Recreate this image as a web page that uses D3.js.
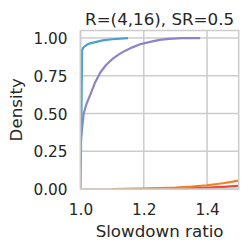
<!DOCTYPE html>
<html>
<head>
<meta charset="utf-8">
<script src="https://cdn.jsdelivr.net/npm/d3@7"></script>
<style>
  body { margin: 0; background: #fff; }
  text { font-family: "DejaVu Sans", sans-serif; fill: #262626; }
</style>
</head>
<body>
<figure id="chart" style="margin:0"></figure>
<script>
// CDF curves (slowdown ratio, density)
const blueX   = [1.0, 1.003, 1.005, 1.01, 1.02, 1.03, 1.05, 1.07, 1.1, 1.15];
const blueY   = [0.0, 0.5, 0.92, 0.94, 0.955, 0.965, 0.975, 0.985, 0.992, 1.0];
const purpleX = [1.0, 1.005, 1.01, 1.02, 1.03, 1.045, 1.062, 1.08, 1.1, 1.12, 1.14, 1.166, 1.19, 1.22, 1.25, 1.28, 1.32, 1.378];
const purpleY = [0.3, 0.4, 0.5, 0.57, 0.62, 0.7, 0.77, 0.82, 0.86, 0.89, 0.915, 0.94, 0.96, 0.975, 0.988, 0.995, 0.999, 1.0];
const peachX  = [1.0, 1.1, 1.2, 1.3];
const peachY  = [0.0, 0.0, 0.002, 0.006];
const orangeX = [1.1, 1.2, 1.3, 1.35, 1.4, 1.45, 1.5];
const orangeY = [0.0, 0.003, 0.01, 0.016, 0.025, 0.038, 0.055];
const redX    = [1.2, 1.3, 1.4, 1.45, 1.5];
const redY    = [0.0, 0.003, 0.009, 0.014, 0.021];

const xTicks = [1.0, 1.2, 1.4];
const yTicks = [0, 0.25, 0.5, 0.75, 1.0];

const W = 249, H = 250;
const mLeft = 80.5, mRight = 238.7, mTop = 30.5, mBottom = 189;

const svg = d3.select("figure#chart")
  .append("svg")
  .attr("width", W)
  .attr("height", H);

const x = d3.scaleLinear().domain([1.0, 1.5]).range([mLeft, mRight]);
const y = d3.scaleLinear().domain([0, 1.05]).range([mBottom, mTop]);

// grid
svg.append("g")
  .selectAll("line")
  .data(xTicks)
  .enter()
  .append("line")
  .attr("x1", d => x(d)).attr("x2", d => x(d))
  .attr("y1", mTop).attr("y2", mBottom)
  .attr("stroke", "#cccccc").attr("stroke-width", 1.5);

svg.append("g")
  .selectAll("line")
  .data(yTicks)
  .enter()
  .append("line")
  .attr("x1", mLeft).attr("x2", mRight)
  .attr("y1", d => y(d)).attr("y2", d => y(d))
  .attr("stroke", "#cccccc").attr("stroke-width", 1.5);

// clip
svg.append("clipPath").attr("id", "clip")
  .append("rect")
  .attr("x", mLeft).attr("y", mTop)
  .attr("width", mRight - mLeft).attr("height", mBottom - mTop);

const line = d3.line().x(d => x(d[0])).y(d => y(d[1]));

const series = [
  { xs: peachX, ys: peachY, color: "#f8c6a4" },
  { xs: redX, ys: redY, color: "#ec4a3c" },
  { xs: orangeX, ys: orangeY, color: "#f6801f" },
  { xs: purpleX, ys: purpleY, color: "#8b85c6" },
  { xs: blueX, ys: blueY, color: "#4a9fd3" }
];

svg.append("g")
  .attr("clip-path", "url(#clip)")
  .selectAll("path")
  .data(series)
  .enter()
  .append("path")
  .attr("d", s => line(s.xs.map((v, i) => [v, s.ys[i]])))
  .attr("fill", "none")
  .attr("stroke", s => s.color)
  .attr("stroke-width", 2.2)
  .attr("stroke-linejoin", "round");

// frame
svg.append("rect")
  .attr("x", mLeft).attr("y", mTop)
  .attr("width", mRight - mLeft).attr("height", mBottom - mTop)
  .attr("fill", "none")
  .attr("stroke", "#cccccc").attr("stroke-width", 1.5);

// axes (labels only)
const xAxis = svg.append("g")
  .attr("transform", "translate(0," + mBottom + ")")
  .call(d3.axisBottom(x).tickValues(xTicks).tickFormat(d3.format(".1f")).tickSize(0).tickPadding(0));
xAxis.select(".domain").remove();
xAxis.selectAll("text")
  .attr("y", 26)
  .attr("dy", null)
  .style("font-size", "15.3px")
  .style("font-family", "DejaVu Sans")
  .attr("fill", "#262626");

const yAxis = svg.append("g")
  .attr("transform", "translate(" + mLeft + ",0)")
  .call(d3.axisLeft(y).tickValues(yTicks).tickFormat(d3.format(".2f")).tickSize(0).tickPadding(0));
yAxis.select(".domain").remove();
yAxis.selectAll("text")
  .attr("x", -13)
  .attr("dy", "0.36em")
  .style("font-size", "15.3px")
  .style("font-family", "DejaVu Sans")
  .attr("fill", "#262626");

svg.append("text")
  .attr("x", (mLeft + mRight) / 2)
  .attr("y", 25)
  .attr("text-anchor", "middle")
  .style("font-size", "16.7px")
  .text("R=(4,16), SR=0.5");

svg.append("text")
  .attr("x", (mLeft + mRight) / 2)
  .attr("y", 237)
  .attr("text-anchor", "middle")
  .style("font-size", "16.7px")
  .text("Slowdown ratio");

svg.append("text")
  .attr("transform", "translate(22," + ((mTop + mBottom) / 2) + ")rotate(-90)")
  .attr("text-anchor", "middle")
  .style("font-size", "16.7px")
  .text("Density");
</script>
</body>
</html>
